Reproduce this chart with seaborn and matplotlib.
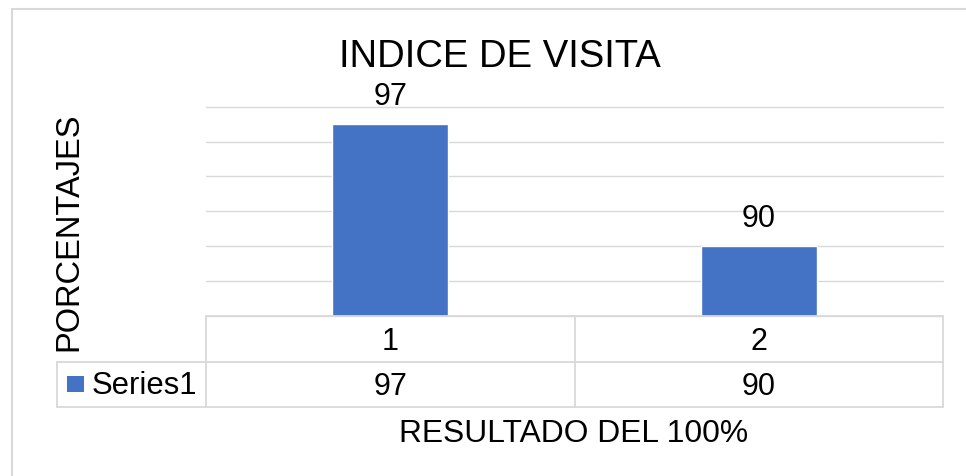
import numpy as np
import pandas as pd
import seaborn as sns
import matplotlib.pyplot as plt
from matplotlib.patches import Rectangle
import matplotlib.transforms as mtransforms

categories = ['1', '2']
values = [97, 90]
series_name = 'Series1'
title = 'INDICE DE VISITA'
ylabel = 'PORCENTAJES'
xlabel = 'RESULTADO DEL 100%'

W, H = 966, 476
bar_color = '#4472C4'
grid_color = '#d9d9d9'

sns.set_theme(style='white')
plt.rcParams['font.family'] = ['Liberation Sans', 'DejaVu Sans']

fig = plt.figure(figsize=(W / 100, H / 100), dpi=100)


# helper: pixel coords (from top-left) to figure fraction
def px(x, y):
    return x / W, 1 - y / H


# plot area in pixels
left, right, top, bottom = 206, 943, 106.7, 316
ax = fig.add_axes([left / W, 1 - bottom / H, (right - left) / W, (bottom - top) / H])

df = pd.DataFrame({'cat': categories, 'val': values})
sns.barplot(data=df, x='cat', y='val', color=bar_color, width=0.315, saturation=1, ax=ax)
ax.set_ylim(86, 98)
ax.set_xlim(-0.5, len(categories) - 0.5)
ax.set_yticks(np.arange(86, 99, 2))
ax.set_yticklabels([])
ax.set_xticklabels([])
ax.tick_params(length=0)
ax.set_xlabel('')
ax.set_ylabel('')
ax.grid(axis='y', color=grid_color, linewidth=1.0)
ax.set_axisbelow(True)
for sp in ax.spines.values():
    sp.set_visible(False)
for gl in ax.yaxis.get_gridlines():
    gl.set_clip_on(False)

ax.bar_label(ax.containers[0], labels=[str(v) for v in values], padding=8.5, fontsize=22, color='black')

# data table under the axis
row1 = -(361.7 - bottom) / (bottom - top)
row2 = -(406.7 - bottom) / (bottom - top)
leg_x = -(left - 57) / (right - left)
lkw = dict(color=grid_color, linewidth=1.3, clip_on=False, transform=ax.transAxes)
ax.plot([0, 1], [0, 0], **lkw)
ax.plot([leg_x, 1], [row1, row1], **lkw)
ax.plot([leg_x, 1], [row2, row2], **lkw)
ax.plot([leg_x, leg_x], [row1, row2], **lkw)
ax.plot([0, 0], [0, row2], **lkw)
ax.plot([1, 1], [0, row2], **lkw)
blend = mtransforms.blended_transform_factory(ax.transData, ax.transAxes)
for i in range(len(categories) - 1):
    ax.plot([i + 0.5, i + 0.5], [0, row2], color=grid_color, linewidth=1.3, clip_on=False, transform=blend)

base1 = -(350 - bottom) / (bottom - top)
base2 = -(395 - bottom) / (bottom - top)
for i, (c, v) in enumerate(zip(categories, values)):
    ax.text(i, base1, c, transform=blend, ha='center', va='baseline', fontsize=22, color='black')
    ax.text(i, base2, str(v), transform=blend, ha='center', va='baseline', fontsize=22, color='black')

# legend key in the table
fig.patches.append(Rectangle(px(67, 391.7), 16.7 / W, 16 / H, transform=fig.transFigure,
                             facecolor=bar_color, edgecolor='none'))
fig.text(*px(91.5, 394.5), series_name, ha='left', va='baseline', fontsize=22.3, color='black')

# titles
fig.text(*px(500, 67), title, ha='center', va='baseline', fontsize=27.5, color='black')
fig.text(*px(574, 442), xlabel, ha='center', va='baseline', fontsize=22.9, color='black')
fig.text(*px(77, 231.5), ylabel, ha='center', va='baseline', rotation=90,
         rotation_mode='anchor', fontsize=23.5, color='black')

# chart frame (cropped at right and bottom)
fig.patches.append(Rectangle(px(12, 500), 1000 / W, 491 / H, transform=fig.transFigure,
                             facecolor='none', edgecolor=grid_color, linewidth=1.5))

fig.savefig('out.png', dpi=100)
